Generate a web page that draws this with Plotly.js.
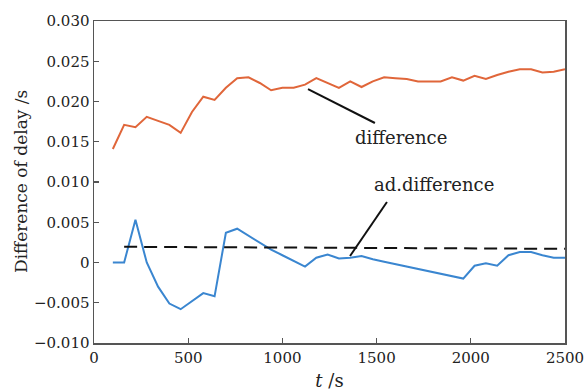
<!DOCTYPE html>
<html><head><meta charset="utf-8">
<script src="https://cdn.plot.ly/plotly-3.0.1.min.js"></script>
<style>html,body{margin:0;padding:0;background:#fff;}#chart{width:587px;height:391px;}</style>
</head><body><div id="chart"></div>
<script>
const time = [100,160,220,280,340,400,460,520,580,640,700,760,820,880,940,1000,1060,1120,1180,1240,1300,1360,1420,1480,1540,1600,1660,1720,1780,1840,1900,1960,2020,2080,2140,2200,2260,2320,2380,2440,2500];
const difference = [0.0141,0.0171,0.0168,0.0181,0.0176,0.0171,0.0161,0.0187,0.0206,0.0202,0.0217,0.0229,0.0230,0.0223,0.0214,0.0217,0.0217,0.0221,0.0229,0.0223,0.0217,0.0225,0.0218,0.0225,0.0230,0.0229,0.0228,0.0225,0.0225,0.0225,0.0230,0.0226,0.0232,0.0228,0.0233,0.0237,0.0240,0.0240,0.0236,0.0237,0.0240];
const adDifference = [0.0000,0.0000,0.0053,0.0000,-0.0030,-0.0051,-0.0058,-0.0048,-0.0038,-0.0042,0.0037,0.0042,0.0033,0.0025,0.0016,0.0009,0.0002,-0.0005,0.0006,0.0010,0.0005,0.0006,0.0008,0.0004,0.0001,-0.0002,-0.0005,-0.0008,-0.0011,-0.0014,-0.0017,-0.0020,-0.0004,-0.0001,-0.0004,0.0009,0.0013,0.0013,0.0009,0.0006,0.0006];
const meanTime = [160,2500];
const meanValue = [0.00195,0.0017];
const xTicks = [0,500,1000,1500,2000,2500];
const xTickText = ['0','500','1000','1500','2000','2500'];
const yTicks = [-0.010,-0.005,0,0.005,0.010,0.015,0.020,0.025,0.030];
const yTickText = ['\u22120.010','\u22120.005','0','0.005','0.010','0.015','0.020','0.025','0.030'];

const fam = '"DejaVu Serif", serif';
const font = {family:fam, size:15, color:'#222'};
const traces = [
  {x:time, y:difference, mode:'lines', line:{color:'#E0663A', width:2}, hoverinfo:'skip'},
  {x:time, y:adDifference, mode:'lines', line:{color:'#3A86D0', width:2}, hoverinfo:'skip'},
  {x:meanTime, y:meanValue, mode:'lines', line:{color:'#111', width:2, dash:'13px,7px'}, hoverinfo:'skip'}
];
const axisCommon = {showline:true, linecolor:'#555', linewidth:1.5, mirror:true, ticks:'inside', ticklen:5, tickcolor:'#555', tickwidth:1.2, showgrid:false, zeroline:false, tickfont:font};
const plotW = 587-94-22, plotH = 391-21-48;
const layout = {
  width:587, height:391, margin:{l:94, r:22, t:21, b:48},
  paper_bgcolor:'#fff', plot_bgcolor:'#fff', showlegend:false, font:font,
  xaxis:Object.assign({}, axisCommon, {range:[0,2500], tickvals:xTicks, ticktext:xTickText,
    title:{text:'<i>t</i> /s', font:{family:fam, size:18, color:'#222'}, standoff:11}}),
  yaxis:Object.assign({}, axisCommon, {range:[-0.010,0.030], tickvals:yTicks, ticktext:yTickText}),
  shapes:[
    {type:'line', xref:'x', yref:'y', x0:1136, y0:0.02155, x1:1491, y1:0.01733, line:{color:'#111', width:2}},
    {type:'line', xref:'x', yref:'y', x0:1555, y0:0.00752, x1:1359, y1:0.00081, line:{color:'#111', width:2}}
  ],
  annotations:[
    {x:1629, y:0.01547, xref:'x', yref:'y', text:'difference', showarrow:false, font:{family:fam, size:18, color:'#222'}},
    {x:1805, y:0.00963, xref:'x', yref:'y', text:'ad.difference', showarrow:false, font:{family:fam, size:18, color:'#222'}},
    {x:(21-94)/plotW, y:0.5, xref:'paper', yref:'paper', xanchor:'center', yanchor:'middle',
     text:'Difference of delay /s', showarrow:false, textangle:-90,
     font:{family:fam, size:17, color:'#222'}}
  ]
};
Plotly.newPlot('chart', traces, layout, {staticPlot:true, displayModeBar:false});
</script>
</body></html>
